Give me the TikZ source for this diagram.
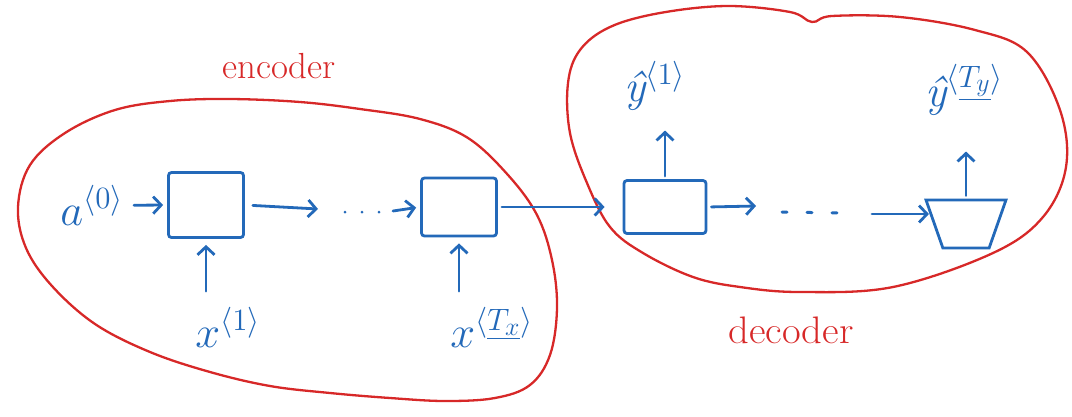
\documentclass[tikz,border=0pt]{standalone}
\usetikzlibrary{arrows.meta,shapes.geometric}
\definecolor{ink}{RGB}{35,105,185}
\definecolor{pen}{RGB}{215,40,40}
\begin{document}
\begin{tikzpicture}[x=1pt,y=-1pt,
  cell/.style={draw=ink, line width=2.8pt, minimum width=75pt, minimum height=62pt, rounded corners=3pt, inner sep=0pt},
  flow/.style={draw=ink, line width=2.8pt, line cap=round, -{Straight Barb[length=8pt,width=17pt,line width=2.8pt]}},
  dots/.style={draw=ink, line width=3pt, line cap=round, dash pattern=on 0pt off 17pt},
  lbl/.style={text=ink, font=\huge, scale=2.15, inner sep=0pt, anchor=base west},
  blob/.style={draw=pen, line width=2.3pt},
  word/.style={text=pen, font=\huge, inner sep=0pt, anchor=base}
]
\useasboundingbox (0,0) rectangle (1072,416);

% encoder and decoder outlines
\draw[blob] plot[smooth cycle, tension=0.6] coordinates {(18,207) (30,165) (65,133) (115,110) (170,101) (230,99) (300,102) (360,109) (420,119) (468,138) (508,175) (537,215) (552,260) (557,308) (550,355) (530,385) (495,398) (445,401) (390,398) (330,393) (270,386) (210,372) (150,352) (95,324) (52,286) (26,248)};
\draw[blob] plot[smooth cycle, tension=0.6] coordinates {(568,83) (580,50) (610,27) (660,13) (727,6) (790,12) (812,22) (832,16) (900,17) (975,30) (1027,52) (1060,110) (1066,167) (1043,217) (993,253) (893,287) (800,292) (740,287) (693,277) (643,253) (610,227) (587,183) (570,133)};

\node[word, xscale=1.78, yscale=1.75] (enc) at (279,78) {encoder};
\node[word, xscale=1.96, yscale=1.85] (dec) at (791,343) {decoder};

% recurrent cells
\node[cell, minimum height=65pt] (b1) at (206,205) {};
\node[cell, minimum height=58pt] (b2) at (459,207) {};
\node[cell, minimum width=82pt, minimum height=53pt] (b3) at (665,207) {};
\node[draw=ink, line width=2.8pt, trapezium, shape border rotate=180, trapezium angle=70,
      trapezium stretches=true, minimum width=80pt, minimum height=48pt, inner sep=2pt] (b4) at (966,224) {};

% inputs and outputs
\node[lbl] (a0) at (60,225) {$a^{\langle 0\rangle}$};
\node[lbl] (x1) at (195,347) {$x^{\langle 1\rangle}$};
\node[lbl] (xT) at (450,347) {$x^{\langle \underline{T_x}\rangle}$};
\node[lbl] (y1) at (624,101) {{\itshape ŷ}$^{\langle 1\rangle}$};
\node[lbl] (yT) at (925,106) {{\itshape ŷ}$^{\langle \underline{T_y}\rangle}$};

% gaps in the two chains
\coordinate (g1) at (318,209);
\coordinate (g2) at (345,212);
\coordinate (g2e) at (380,212);
\coordinate (g2a) at (393,211);
\coordinate (g3) at (756,206);
\coordinate (d1) at (782,212);
\coordinate (d2) at (840,213);
\coordinate (g4) at (872,214);

% connectors
\draw[flow, shorten <=10pt, shorten >=4pt] (a0.east) -- (b1.west);
\draw[flow, shorten <=8pt] (b1.east) -- (g1);
\draw[dots] (g2) -- (g2e);
\draw[flow, shorten >=4pt] (g2a) -- (b2.west);
\draw[flow, shorten <=4pt, shorten >=18pt] (b2.east) -- (b3.west);
\draw[flow, shorten <=4pt] (b3.east) -- (g3);
\draw[dots, dash pattern=on 5pt off 20pt] (d1) -- (d2);
\draw[flow, shorten >=4pt] (g4) -- (b4.west |- g4);
\draw[flow, shorten <=16pt, shorten >=6pt] (b1.south |- x1.north) -- (b1.south);
\draw[flow, shorten <=16pt, shorten >=6pt] (b2.south |- xT.north) -- (b2.south);
\draw[flow, shorten <=3pt] (b3.north) -- ([yshift=-20pt]b3.north |- y1.south);
\draw[flow, shorten <=3pt] (b4.north) -- ([yshift=-36pt]b4.north |- yT.south);
\end{tikzpicture}
\end{document}
